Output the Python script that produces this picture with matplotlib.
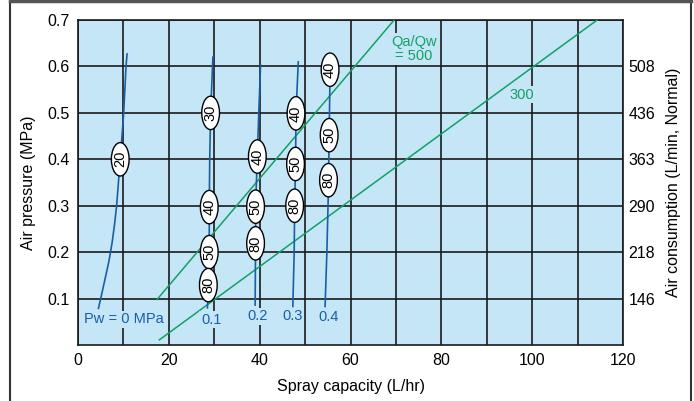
import numpy as np
import matplotlib
matplotlib.use('Agg')
import matplotlib.pyplot as plt
from matplotlib.patches import Ellipse
from matplotlib.lines import Line2D

plt.rcParams['font.family'] = ['Liberation Sans', 'DejaVu Sans']

# water pressure curves (Pw, MPa): spray capacity (L/hr) vs air pressure (MPa)
pw_labels = ['Pw = 0 MPa', '0.1', '0.2', '0.3', '0.4']
pw_x = [
    [4.5, 5.0, 5.9, 6.8, 7.5, 8.05, 8.5, 9.3, 10.06, 10.57, 10.8],
    [28.5, 28.7, 28.9, 28.9, 29.0, 29.2, 29.7],
    [39.0, 39.1, 39.1, 39.5, 39.8, 40.2],
    [47.3, 47.6, 47.7, 47.9, 48.0, 48.5],
    [54.4, 54.8, 55.1, 55.3, 55.5],
]
pw_y = [
    [0.079, 0.1, 0.14, 0.18, 0.22, 0.26, 0.3, 0.4, 0.5, 0.6, 0.627],
    [0.08, 0.13, 0.2, 0.3, 0.4, 0.5, 0.62],
    [0.086, 0.22, 0.3, 0.41, 0.5, 0.603],
    [0.083, 0.2, 0.3, 0.39, 0.5, 0.61],
    [0.083, 0.2, 0.32, 0.45, 0.593],
]
# label position of each Pw text
pw_lab_x = [1.3, 29.3, 39.6, 47.2, 55.1]
pw_lab_y = [0.055, 0.054, 0.062, 0.062, 0.06]

# oval markers on the curves (values and air pressure)
oval_vals = [[20], [30, 40, 50, 80], [40, 50, 80], [40, 50, 80], [40, 50, 80]]
oval_y = [[0.40], [0.50, 0.297, 0.20, 0.129], [0.406, 0.298, 0.219],
          [0.499, 0.39, 0.30], [0.593, 0.452, 0.355]]

# Qa/Qw ratio lines
ratio_names = ['Qa/Qw\n= 500', '300']
ratio_x = [[17.4, 69.6], [17.9, 114.3]]
ratio_y = [[0.098, 0.70], [0.011, 0.70]]
ratio_lab_x = [74.0, 97.7]
ratio_lab_y = [0.638, 0.539]

right_ticks = [0.1, 0.2, 0.3, 0.4, 0.5, 0.6]
right_labels = ['146', '218', '290', '363', '436', '508']

blue = '#1a5fa5'
green = '#12a064'
bg = '#c5e6f7'

fig = plt.figure(figsize=(6.94, 4.01), dpi=100)
ax = fig.add_axes([0.1124, 0.1397, 0.7853, 0.8103])
ax.set_facecolor(bg)
ax.set_xlim(0, 120)
ax.set_ylim(0, 0.7)
ax.set_xticks(np.arange(0, 121, 20))
ax.set_xticks(np.arange(10, 120, 20), minor=True)
ax.set_yticks([0.1, 0.2, 0.3, 0.4, 0.5, 0.6, 0.7])
ax.set_yticklabels(['0.1', '0.2', '0.3', '0.4', '0.5', '0.6', '0.7'])
ax.grid(True, which='both', color='#1a1a1a', linewidth=1.2)
ax.set_axisbelow(True)
ax.tick_params(which='both', length=0, labelsize=11.5, pad=6)
for s in ax.spines.values():
    s.set_linewidth(1.2)
    s.set_color('#1a1a1a')
ax.set_xlabel('Spray capacity (L/hr)', fontsize=11.5, labelpad=8)
ax.set_ylabel('Air pressure (MPa)', fontsize=11.5, labelpad=8)

ax2 = ax.twinx()
ax2.set_ylim(0, 0.7)
ax2.set_yticks(right_ticks)
ax2.set_yticklabels(right_labels)
ax2.tick_params(length=0, labelsize=11.5, pad=4)
ax2.set_ylabel('Air consumption (L/min, Normal)', fontsize=11.5, labelpad=8)
for s in ax2.spines.values():
    s.set_visible(False)

tbox = dict(boxstyle='square,pad=0.1', facecolor=bg, edgecolor='none')

# ratio lines
for xs, ys, name, lx, ly in zip(ratio_x, ratio_y, ratio_names, ratio_lab_x, ratio_lab_y):
    ax.plot(xs, ys, color=green, linewidth=1.1, zorder=3)
    ax.text(lx, ly, name, color=green, fontsize=10.5, ha='center', va='center',
            bbox=tbox, zorder=4, linespacing=1.05)

# Pw curves
for xs, ys, lab, lx, ly in zip(pw_x, pw_y, pw_labels, pw_lab_x, pw_lab_y):
    ax.plot(xs, ys, color=blue, linewidth=1.2, zorder=5)
    ax.text(lx, ly, lab, color=blue, fontsize=10.5, ha='left' if lab.startswith('Pw') else 'center',
            va='center', bbox=tbox, zorder=4)

# ovals
for xs, ys, vals, oys in zip(pw_x, pw_y, oval_vals, oval_y):
    for v, oy in zip(vals, oys):
        ox = np.interp(oy, ys, xs)
        ax.add_patch(Ellipse((ox, oy), 3.9, 0.072, facecolor='white',
                             edgecolor='black', linewidth=1.0, zorder=6))
        ax.text(ox, oy, str(v), rotation=90, fontsize=10.5, ha='center',
                va='center', rotation_mode='anchor', zorder=7)

# outer frame (left, right, top)
fig.add_artist(Line2D([10 / 694, 10 / 694], [0, 1], color='#333333', linewidth=1.5))
fig.add_artist(Line2D([690.5 / 694, 690.5 / 694], [0, 1], color='#333333', linewidth=1.5))
fig.add_artist(Line2D([10 / 694, 690.5 / 694], [0.997, 0.997], color='#555555', linewidth=2.5))

fig.savefig('out.png', dpi=100)
